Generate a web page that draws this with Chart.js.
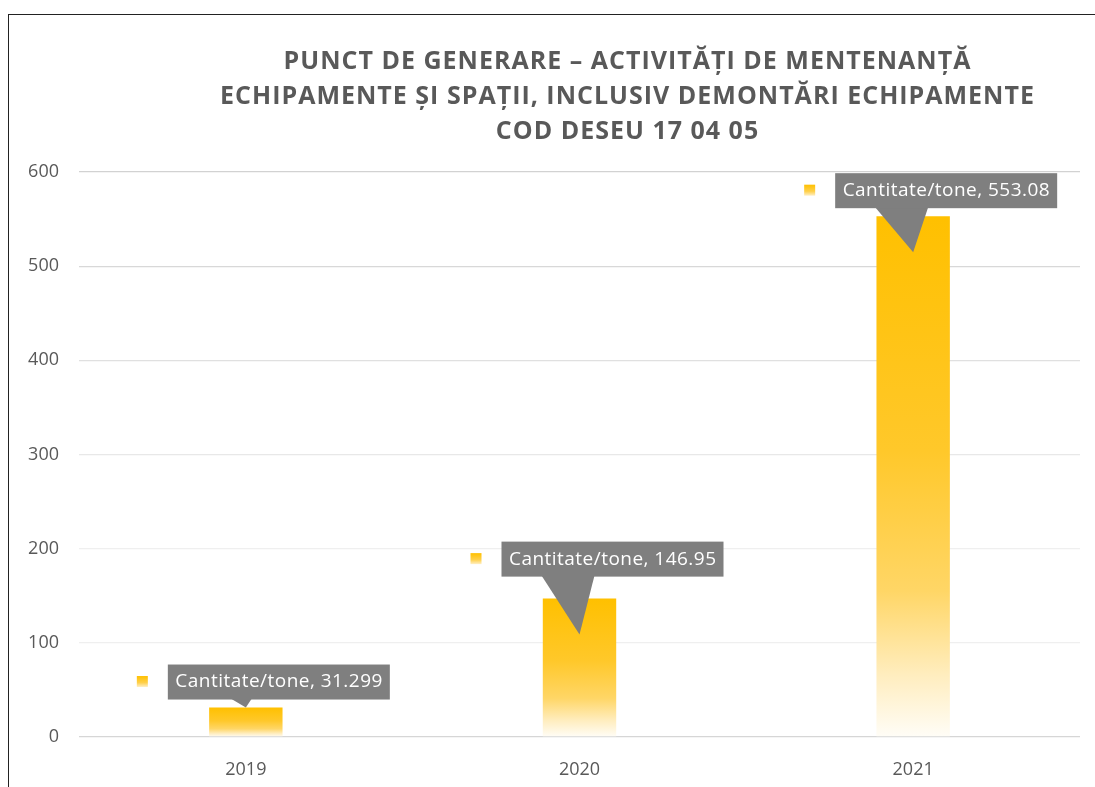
<!DOCTYPE html>
<html>
<head>
<meta charset="utf-8">
<script src="https://cdn.jsdelivr.net/npm/chart.js@4"></script>
<style>
  html, body { margin: 0; padding: 0; background: #fff; overflow: hidden; }
  #frame { position: absolute; left: 8px; top: 14px; width: 1300px; height: 900px; border: 1px solid #222; background: #fff; }
  #chartCanvas { position: absolute; left: 0; top: 0; }
</style>
</head>
<body>
<div id="frame"></div>
<canvas id="chartCanvas" width="1095" height="787"></canvas>
<script>
const titleLines = [
  'PUNCT DE GENERARE – ACTIVITĂȚI DE MENTENANȚĂ',
  'ECHIPAMENTE ȘI SPAȚII, INCLUSIV DEMONTĂRI ECHIPAMENTE',
  'COD DESEU 17 04 05'
];
const years = ['2019', '2020', '2021'];
const seriesName = 'Cantitate/tone';
const quantities = [31.299, 146.95, 553.08];
const valueLabels = ['31.299', '146.95', '553.08'];
const yTicks = [0, 100, 200, 300, 400, 500, 600];

const FONT = '"Open Sans", "Noto Sans", sans-serif';

function barGradient(ctx) {
  const chart = ctx.chart;
  if (!chart.chartArea || ctx.type !== 'data') return '#FFC000';
  const y = chart.scales.y;
  const top = y.getPixelForValue(ctx.raw);
  const bottom = y.getPixelForValue(0);
  const g = chart.ctx.createLinearGradient(0, top, 0, bottom);
  g.addColorStop(0, '#FFC000');
  g.addColorStop(0.45, '#FFC82A');
  g.addColorStop(0.72, '#FFD666');
  g.addColorStop(0.88, '#FFEDBE');
  g.addColorStop(1, '#FFFDF7');
  return g;
}

// spread letters so a line fills the width measured on the original
function fitSpacing(c, text, target) {
  c.letterSpacing = '0px';
  const w = c.measureText(text).width;
  return Math.max(0, (target - w) / (text.length - 1));
}

// title drawn at a fixed centre, like the original (which is centred on a wider frame)
const titlePlugin = {
  id: 'bigTitle',
  afterDraw(chart) {
    const c = chart.ctx;
    c.save();
    c.fillStyle = '#595959';
    c.font = 'bold 25px ' + FONT;
    const sp = fitSpacing(c, titleLines[1], 814);
    c.letterSpacing = sp.toFixed(2) + 'px';
    c.textAlign = 'center';
    c.textBaseline = 'middle';
    titleLines.forEach((t, i) => c.fillText(t, 627 + sp / 2, 62 + i * 35));
    c.restore();
  }
};

// grey callout labels with the legend key in front
const calloutPlugin = {
  id: 'callouts',
  afterDatasetsDraw(chart, args, opts) {
    const c = chart.ctx;
    const meta = chart.getDatasetMeta(0);
    c.save();
    c.font = '19px ' + FONT;
    meta.data.forEach((bar, i) => {
      const text = seriesName + ', ' + valueLabels[i];
      const sp = fitSpacing(c, text, 207);
      c.letterSpacing = sp.toFixed(2) + 'px';
      const w = 222, h = 35;
      const cx = bar.x, top = bar.y;
      const boxBottom = top - opts.gaps[i];
      const boxTop = boxBottom - h;
      const boxLeft = cx + 33 - w / 2;
      const tipY = top + opts.tipDepth[i];
      const k = Math.min(1, (tipY - boxBottom) / 20);

      c.fillStyle = '#7F7F7F';
      c.beginPath();
      c.moveTo(cx - 38 * k, boxBottom - 1);
      c.lineTo(cx, tipY);
      c.lineTo(cx + 15 * k, boxBottom - 1);
      c.closePath();
      c.fill();
      c.fillRect(boxLeft, boxTop, w, h);

      c.fillStyle = '#FFFFFF';
      c.textAlign = 'center';
      c.textBaseline = 'middle';
      c.fillText(text, boxLeft + w / 2 + sp / 2, boxTop + h / 2);

      const kx = boxLeft - 31, ky = boxTop + h / 2 - 6;
      const g = c.createLinearGradient(0, ky, 0, ky + 11);
      g.addColorStop(0, '#FFC000');
      g.addColorStop(0.6, '#FFD04A');
      g.addColorStop(1, '#FFEFC4');
      c.fillStyle = g;
      c.fillRect(kx, ky, 11, 11);
    });
    c.restore();
  }
};

const gridColors = { 0: '#D6D6D6', 100: '#EFEFEF', 200: '#EFEFEF', 300: '#E8E8E8', 400: '#E0E0E0', 500: '#D8D8D8', 600: '#D2D2D2' };

new Chart(document.getElementById('chartCanvas'), {
  type: 'bar',
  data: {
    labels: years,
    datasets: [{
      label: seriesName,
      data: quantities,
      backgroundColor: barGradient,
      borderWidth: 0,
      categoryPercentage: 1,
      barPercentage: 0.22
    }]
  },
  options: {
    responsive: false,
    animation: false,
    layout: { padding: { top: 172, right: 15, bottom: 0, left: 0 } },
    plugins: {
      legend: { display: false },
      title: { display: false },
      tooltip: { enabled: false },
      callouts: { gaps: [8, 22, 8], tipDepth: [0, 36, 36] }
    },
    scales: {
      x: {
        grid: { display: false },
        border: { display: false },
        ticks: { color: '#595959', font: { family: FONT, size: 18 }, padding: 14 },
        afterFit(s) { s.height = 50; }
      },
      y: {
        min: 0, max: 600,
        afterBuildTicks(s) { s.ticks = yTicks.map(v => ({ value: v })); },
        grid: { color: c => gridColors[c.tick && c.tick.value] || '#D9D9D9', lineWidth: 1.3, drawTicks: false },
        border: { display: false },
        ticks: { color: '#595959', font: { family: FONT, size: 18 }, padding: 20 },
        afterFit(s) { s.width = 79; }
      }
    }
  },
  plugins: [titlePlugin, calloutPlugin]
});
</script>
</body>
</html>
